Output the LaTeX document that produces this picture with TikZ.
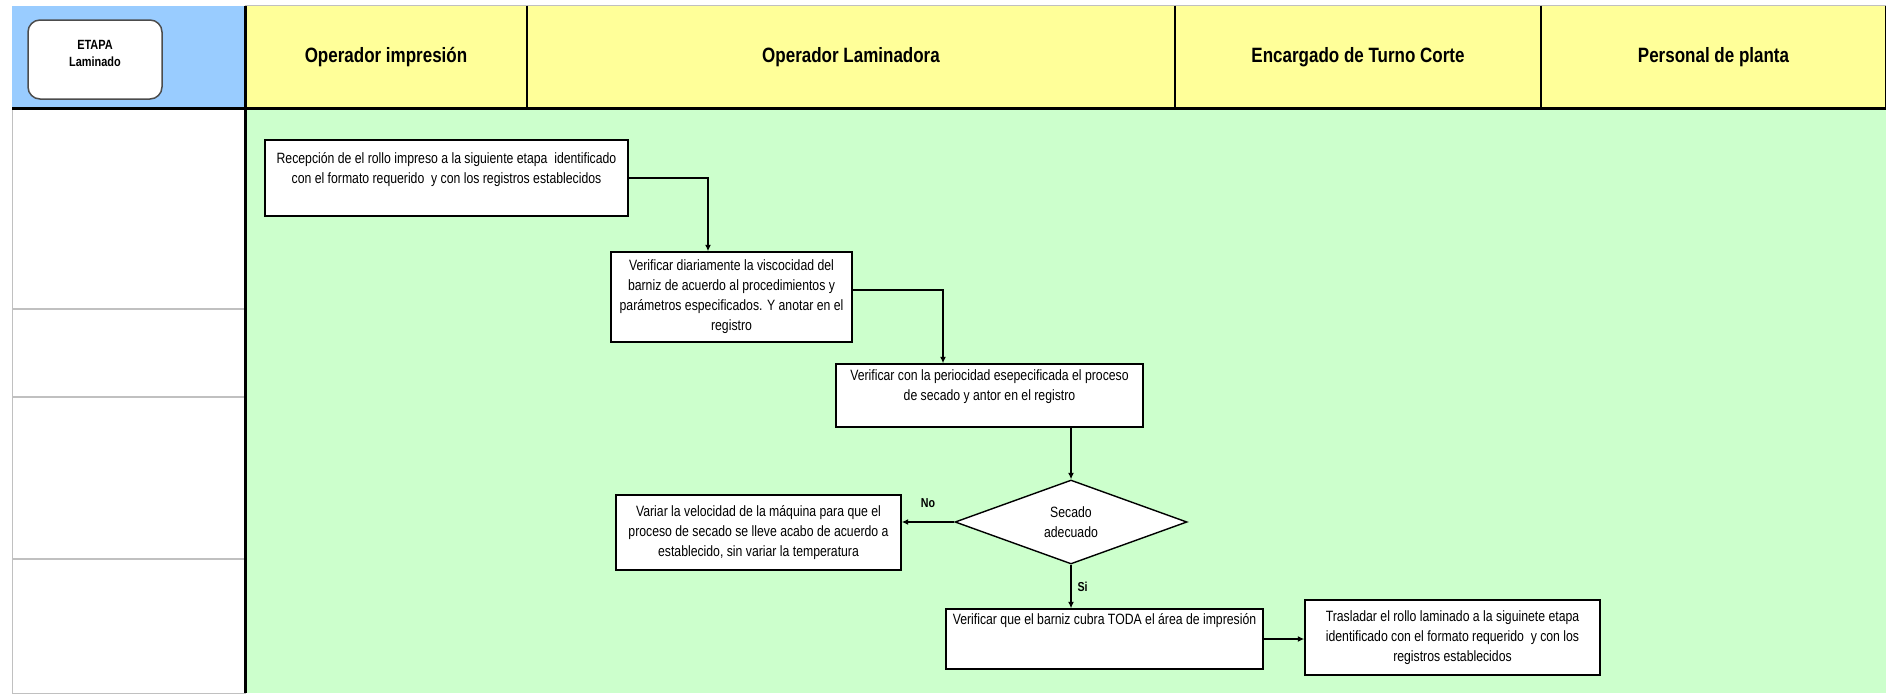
\documentclass[tikz,border=0pt]{standalone}
\usepackage{fontspec}
\setmainfont{Liberation Sans}[FakeStretch=0.82]
\usetikzlibrary{shapes.geometric, arrows.meta}

\definecolor{hdrblue}{HTML}{99CCFF}
\definecolor{hdryellow}{HTML}{FFFF99}
\definecolor{lanegreen}{HTML}{CCFFCC}
\definecolor{gridgray}{HTML}{C0C0C0}

\newlength{\px}
\setlength{\px}{0.02cm}

\begin{document}
\begin{tikzpicture}[
    x = 0.02cm, y = -0.02cm,
    >={Latex[length=1.3mm, width=1.2mm]},
    lanehead/.style = {
        rectangle, fill = hdryellow,
        minimum height = 102\px, inner sep = 0pt,
        font = \fontsize{11.8}{14}\selectfont\bfseries
    },
    process/.style = {
        rectangle, draw, fill = white, line width = 0.8pt,
        align = center, inner sep = 1pt,
        font = \fontsize{8.5}{11.4}\selectfont
    },
    decision/.style = {
        diamond, aspect = 2.76, draw, fill = white, line width = 0.8pt,
        minimum width = 232\px, minimum height = 84\px,
        inner sep = 0pt, align = center,
        font = \fontsize{8.5}{11.4}\selectfont
    },
    arrow/.style = {line width = 0.8pt, ->},
    answer/.style = {font = \fontsize{7.4}{9}\selectfont\bfseries}
]

% --- Page and lanes ---
\useasboundingbox (0,0) rectangle (1886,693);
\fill[white] (0,0) rectangle (1886,693);
\draw[gridgray, fill = white] (12,6) rectangle (245,693);
\foreach \y in {309, 397, 559}
    \draw[gridgray, line width = 1.5\px] (12,\y) -- (245,\y);
\fill[lanegreen] (245,108) rectangle (1886,693);

% --- Header row ---
\node[rectangle, fill = hdrblue, minimum width = 233\px,
      minimum height = 102\px] (etapaCell) at (128.5,57) {};
\node[rectangle, rounded corners = 12\px, draw = gray!60!black,
      line width = 1.5\px, fill = white,
      minimum width = 134\px, minimum height = 79\px] (etapaBox) at (95,59.5) {};
\node[align = center, font = \fontsize{7.6}{9.6}\selectfont\bfseries]
      (etapaTxt) at (95,53.5) {ETAPA\\Laminado};

\node[lanehead, minimum width = 282\px] (hImp) at (386,57)    {Operador impresión};
\node[lanehead, minimum width = 648\px] (hLam) at (851,57)    {Operador Laminadora};
\node[lanehead, minimum width = 366\px] (hEnc) at (1358,57)   {Encargado de Turno Corte};
\node[lanehead, minimum width = 345\px] (hPer) at (1713.5,57) {Personal de planta};

\draw[gridgray] (hImp.north west) -- (hPer.north east);
\draw[line width = 1.2pt] (hImp.north east) -- (hImp.south east);
\draw[line width = 1.2pt] (hLam.north east) -- (hLam.south east);
\draw[line width = 1.2pt] (hEnc.north east) -- (hEnc.south east);
\draw[line width = 1.2pt] (hPer.north east) -- (hPer.south east);
\draw[line width = 3\px] (12,108) -- (1886,108);
\draw[line width = 3\px] (245,6) -- (245,693);

% --- Flow steps ---
\node[process, minimum width = 363\px, minimum height = 76\px] (recep) at (446.5,178)
    {Recepción de el rollo impreso a la siguiente etapa~ identificado\\
     con el formato requerido~ y con los registros establecidos\\~};

\node[process, minimum width = 241\px, minimum height = 90\px] (visc) at (731.5,297)
    {Verificar diariamente la viscocidad del\\
     barniz de acuerdo al procedimientos y\\
     parámetros especificados. Y anotar en el\\
     registro};

\node[process, minimum width = 307\px, minimum height = 63\px] (secProc) at (989.5,395.5)
    {Verificar con la periocidad esepecificada el proceso\\
     de secado y antor en el registro\\~};

\node[decision] (dec) at (1071,522) {Secado\\adecuado};

\node[process, minimum width = 285\px, minimum height = 75\px] (velo) at (758.5,532.5)
    {Variar la velocidad de la máquina para que el\\
     proceso de secado se lleve acabo de acuerdo a\\
     establecido, sin variar la temperatura};

\node[process, minimum width = 317\px, minimum height = 60\px] (cubre) at (1104.5,639)
    {Verificar que el barniz cubra TODA el área de impresión\\~\\~};

\node[process, minimum width = 295\px, minimum height = 75\px] (trasl) at (1452.5,637.5)
    {Trasladar el rollo laminado a la siguinete etapa\\
     identificado con el formato requerido~ y con los\\
     registros establecidos};

% --- Connectors ---
\draw[arrow] (recep.east) -| ([xshift = -23.5\px]visc.north);
\draw[arrow] ([yshift = 7\px]visc.east) -| ([xshift = -46.5\px]secProc.north);
\draw[arrow] (secProc.south -| dec.north) -- (dec.north);
\draw[arrow] (dec.west) -- node[answer, above = 8\px] {No} (dec.west -| velo.east);
\draw[arrow] (dec.south) -- node[answer, right] {Si} (dec.south |- cubre.north);
\draw[arrow] (cubre.east) -- (cubre.east -| trasl.west);

\end{tikzpicture}
\end{document}
